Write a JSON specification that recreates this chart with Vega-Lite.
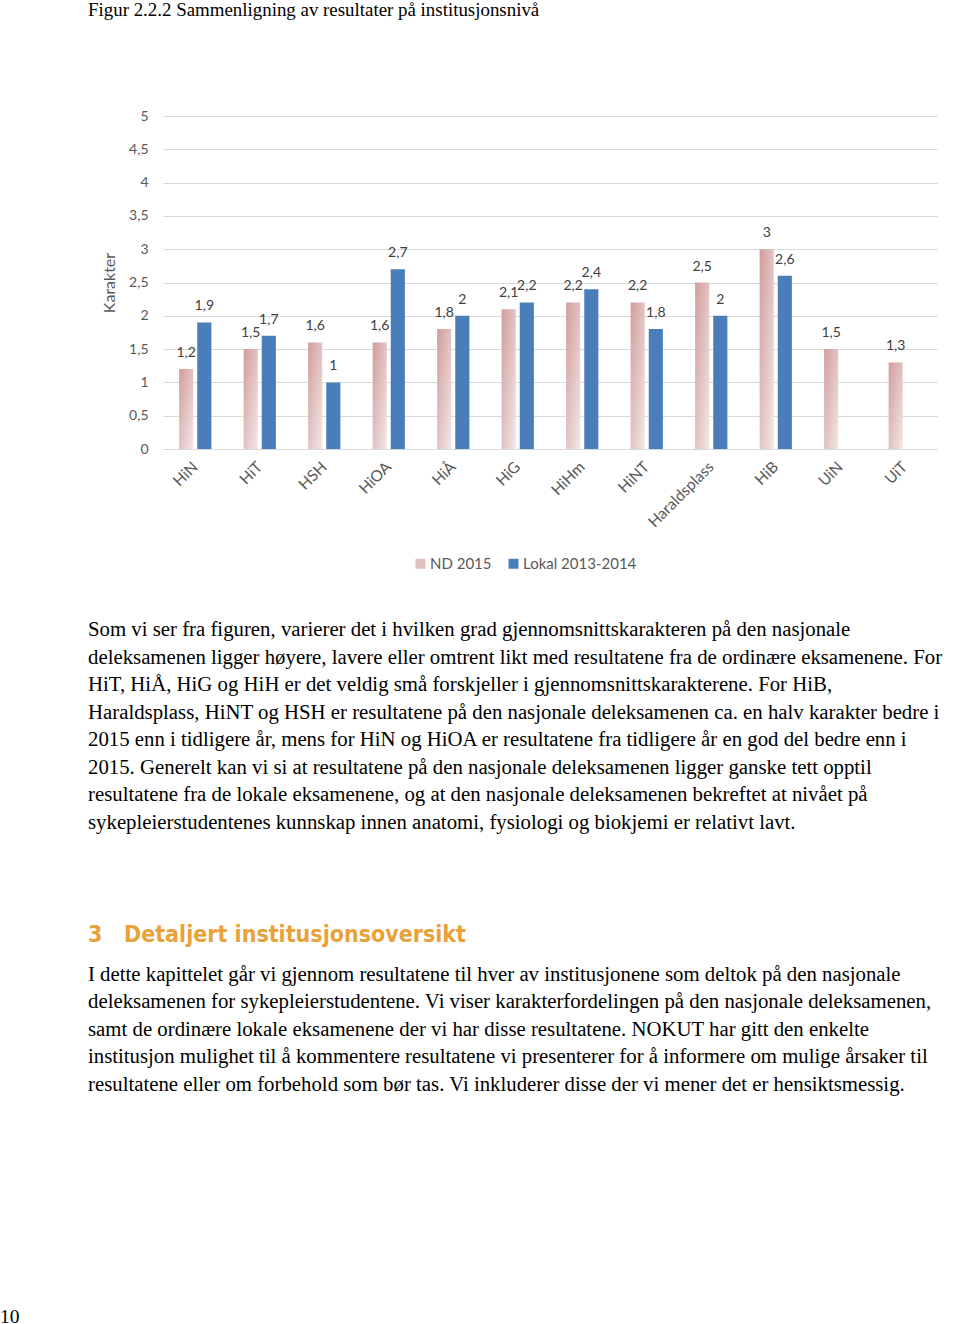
{
  "$schema": "https://vega.github.io/schema/vega-lite/v6.json",
  "padding": 0,
  "background": "white",
  "spacing": 0,
  "config": {
    "view": {"stroke": null},
    "locale": {"number": {"decimal": ",", "thousands": " ", "grouping": [3], "currency": ["", " kr"]}},
    "font": "Lato"
  },
  "datasets": {
    "karakter": [
      {"institusjon": "HiN", "serie": "ND 2015", "karakter": 1.2},
      {"institusjon": "HiN", "serie": "Lokal 2013-2014", "karakter": 1.9},
      {"institusjon": "HiT", "serie": "ND 2015", "karakter": 1.5},
      {"institusjon": "HiT", "serie": "Lokal 2013-2014", "karakter": 1.7},
      {"institusjon": "HSH", "serie": "ND 2015", "karakter": 1.6},
      {"institusjon": "HSH", "serie": "Lokal 2013-2014", "karakter": 1.0},
      {"institusjon": "HiOA", "serie": "ND 2015", "karakter": 1.6},
      {"institusjon": "HiOA", "serie": "Lokal 2013-2014", "karakter": 2.7},
      {"institusjon": "HiÅ", "serie": "ND 2015", "karakter": 1.8},
      {"institusjon": "HiÅ", "serie": "Lokal 2013-2014", "karakter": 2.0},
      {"institusjon": "HiG", "serie": "ND 2015", "karakter": 2.1},
      {"institusjon": "HiG", "serie": "Lokal 2013-2014", "karakter": 2.2},
      {"institusjon": "HiHm", "serie": "ND 2015", "karakter": 2.2},
      {"institusjon": "HiHm", "serie": "Lokal 2013-2014", "karakter": 2.4},
      {"institusjon": "HiNT", "serie": "ND 2015", "karakter": 2.2},
      {"institusjon": "HiNT", "serie": "Lokal 2013-2014", "karakter": 1.8},
      {"institusjon": "Haraldsplass", "serie": "ND 2015", "karakter": 2.5},
      {"institusjon": "Haraldsplass", "serie": "Lokal 2013-2014", "karakter": 2.0},
      {"institusjon": "HiB", "serie": "ND 2015", "karakter": 3.0},
      {"institusjon": "HiB", "serie": "Lokal 2013-2014", "karakter": 2.6},
      {"institusjon": "UiN", "serie": "ND 2015", "karakter": 1.5},
      {"institusjon": "UiT", "serie": "ND 2015", "karakter": 1.3}
    ],
    "figur": [
      {"linje": 1, "tekst": "Figur 2.2.2 Sammenligning av resultater på institusjonsnivå"}
    ],
    "side": [
      {"linje": 1, "tekst": "10"}
    ],
    "avsnitt1": [
      {"linje": 1, "tekst": "Som vi ser fra figuren, varierer det i hvilken grad gjennomsnittskarakteren på den nasjonale"},
      {"linje": 2, "tekst": "deleksamenen ligger høyere, lavere eller omtrent likt med resultatene fra de ordinære eksamenene. For"},
      {"linje": 3, "tekst": "HiT, HiÅ, HiG og HiH er det veldig små forskjeller i gjennomsnittskarakterene. For HiB,"},
      {"linje": 4, "tekst": "Haraldsplass, HiNT og HSH er resultatene på den nasjonale deleksamenen ca. en halv karakter bedre i"},
      {"linje": 5, "tekst": "2015 enn i tidligere år, mens for HiN og HiOA er resultatene fra tidligere år en god del bedre enn i"},
      {"linje": 6, "tekst": "2015. Generelt kan vi si at resultatene på den nasjonale deleksamenen ligger ganske tett opptil"},
      {"linje": 7, "tekst": "resultatene fra de lokale eksamenene, og at den nasjonale deleksamenen bekreftet at nivået på"},
      {"linje": 8, "tekst": "sykepleierstudentenes kunnskap innen anatomi, fysiologi og biokjemi er relativt lavt."}
    ],
    "overskrift": [
      {"linje": 1, "tekst": "3\u00a0\u00a0\u00a0Detaljert institusjonsoversikt"}
    ],
    "avsnitt2": [
      {"linje": 1, "tekst": "I dette kapittelet går vi gjennom resultatene til hver av institusjonene som deltok på den nasjonale"},
      {"linje": 2, "tekst": "deleksamenen for sykepleierstudentene. Vi viser karakterfordelingen på den nasjonale deleksamenen,"},
      {"linje": 3, "tekst": "samt de ordinære lokale eksamenene der vi har disse resultatene. NOKUT har gitt den enkelte"},
      {"linje": 4, "tekst": "institusjon mulighet til å kommentere resultatene vi presenterer for å informere om mulige årsaker til"},
      {"linje": 5, "tekst": "resultatene eller om forbehold som bør tas. Vi inkluderer disse der vi mener det er hensiktsmessig."}
    ]
  },
  "hconcat": [
    {
      "width": 88,
      "height": 1324,
      "data": {"name": "side"},
      "mark": {"type": "text", "align": "left", "baseline": "middle", "font": "Liberation Serif", "fontSize": 19.5, "color": "black"},
      "encoding": {
        "x": {"datum": 0, "type": "quantitative", "scale": {"domain": [0, 1]}, "axis": null},
        "y": {"field": "linje", "type": "ordinal", "scale": {"type": "point", "padding": 0, "align": 0.99396}, "axis": null},
        "text": {"field": "tekst"}
      }
    },
    {
      "spacing": 0,
      "vconcat": [
        {
          "width": 870,
          "height": 108,
          "data": {"name": "figur"},
          "mark": {"type": "text", "align": "left", "baseline": "middle", "font": "Liberation Serif", "fontSize": 18.9, "color": "black"},
          "encoding": {
            "x": {"datum": 0, "type": "quantitative", "scale": {"domain": [0, 1]}, "axis": null},
            "y": {"field": "linje", "type": "ordinal", "scale": {"type": "point", "padding": 0, "align": 0.08333}, "axis": null},
            "text": {"field": "tekst"}
          }
        },
        {
          "spacing": 0,
          "hconcat": [
            {
              "width": 13,
              "height": 440,
              "data": {"values": []},
              "mark": "point",
              "encoding": {}
            },
            {
              "width": 774,
              "height": 333,
              "data": {"name": "karakter"},
              "encoding": {
                "x": {
                  "field": "institusjon", "type": "nominal",
                  "scale": {"domain": ["HiN", "HiT", "HSH", "HiOA", "HiÅ", "HiG", "HiHm", "HiNT", "Haraldsplass", "HiB", "UiN", "UiT"], "paddingInner": 0.5, "paddingOuter": 0.25},
                  "axis": {"title": null, "labelAngle": -45, "labelAlign": "right", "labelBaseline": "middle", "labelPadding": 15, "ticks": false, "domainColor": "#d9d9d9", "labelColor": "#595959", "labelFontSize": 15.5, "labelFont": "Lato"}
                },
                "xOffset": {"field": "serie", "type": "nominal", "scale": {"domain": ["ND 2015", "Lokal 2013-2014"], "paddingInner": 0.22, "paddingOuter": 0}},
                "y": {
                  "field": "karakter", "type": "quantitative",
                  "scale": {"domain": [0, 5], "nice": false},
                  "axis": {"title": "Karakter", "values": [0, 0.5, 1, 1.5, 2, 2.5, 3, 3.5, 4, 4.5, 5], "format": "~g", "grid": true, "gridColor": "#d9d9d9", "domain": false, "ticks": false, "labelPadding": 15, "labelColor": "#595959", "labelFontSize": 14, "labelFont": "Lato", "titleFont": "Lato", "titleFontSize": 16, "titleFontWeight": "normal", "titleColor": "#595959", "titlePadding": 8, "minExtent": 38, "maxExtent": 38}
                }
              },
              "layer": [
                {
                  "transform": [{"filter": "datum.serie == 'ND 2015'"}],
                  "mark": {"type": "bar", "fill": {"gradient": "linear", "x1": 0, "y1": 0, "x2": 1, "y2": 1, "stops": [{"offset": 0, "color": "#d19c9c"}, {"offset": 1, "color": "#f3e8e8"}]}}
                },
                {
                  "transform": [{"filter": "datum.serie == 'Lokal 2013-2014'"}],
                  "mark": {"type": "bar"},
                  "encoding": {
                    "color": {
                      "field": "serie", "type": "nominal",
                      "scale": {"domain": ["ND 2015", "Lokal 2013-2014"], "range": ["#e0c0c0", "#4a7ebb"]},
                      "legend": {"title": null, "orient": "none", "legendX": 413, "legendY": 555, "direction": "horizontal", "symbolType": "square", "symbolSize": 100, "symbolStrokeWidth": 0, "labelFontSize": 15, "labelColor": "#595959", "labelFont": "Lato", "columnPadding": 14, "labelOffset": 2, "padding": 0}
                    }
                  }
                },
                {
                  "mark": {"type": "text", "baseline": "alphabetic", "dy": -12, "fontSize": 14, "color": "#404040", "font": "Lato"},
                  "encoding": {"text": {"field": "karakter", "type": "quantitative", "format": "~g"}}
                }
              ]
            }
          ]
        },
        {
          "width": 870,
          "height": 545,
          "resolve": {"scale": {"y": "independent"}},
          "layer": [
            {
              "data": {"name": "avsnitt1"},
              "mark": {"type": "text", "align": "left", "baseline": "middle", "font": "Liberation Serif", "fontSize": 20.8, "color": "black"},
              "encoding": {
                "x": {"datum": 0, "type": "quantitative", "scale": {"domain": [0, 1]}, "axis": null},
                "y": {"field": "linje", "type": "quantitative", "scale": {"domain": [-1.684, 18.084], "reverse": true, "nice": false, "zero": false}, "axis": null},
                "text": {"field": "tekst"}
              }
            },
            {
              "data": {"name": "overskrift"},
              "mark": {"type": "text", "align": "left", "baseline": "middle", "font": "'Liberation Sans Narrow', 'DejaVu Sans Condensed', sans-serif", "fontSize": 23, "fontWeight": "bold", "color": "#e8a23a"},
              "encoding": {
                "x": {"datum": 0, "type": "quantitative", "scale": {"domain": [0, 1]}, "axis": null},
                "y": {"field": "linje", "type": "quantitative", "scale": {"domain": [-5.954, 4.046], "reverse": true, "nice": false, "zero": false}, "axis": null},
                "text": {"field": "tekst"}
              }
            },
            {
              "data": {"name": "avsnitt2"},
              "mark": {"type": "text", "align": "left", "baseline": "middle", "font": "Liberation Serif", "fontSize": 20.8, "color": "black"},
              "encoding": {
                "x": {"datum": 0, "type": "quantitative", "scale": {"domain": [0, 1]}, "axis": null},
                "y": {"field": "linje", "type": "quantitative", "scale": {"domain": [-14.236, 5.582], "reverse": true, "nice": false, "zero": false}, "axis": null},
                "text": {"field": "tekst"}
              }
            }
          ]
        }
      ]
    }
  ]
}
